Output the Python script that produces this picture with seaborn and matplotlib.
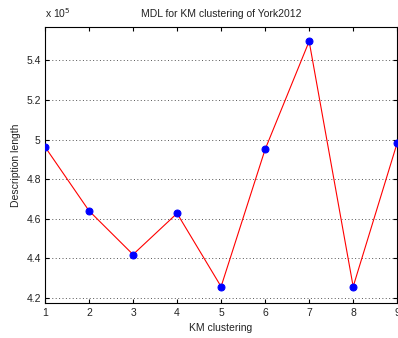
import matplotlib
matplotlib.use("Agg")
import matplotlib.pyplot as plt
import matplotlib.ticker as mticker
import seaborn as sns
import pandas as pd

# Description length per KM clustering run
clusterings = [1, 2, 3, 4, 5, 6, 7, 8, 9]
description_length = [496300, 464000, 441900, 462700, 425700, 495000, 549600, 425700, 498300]
y_ticks = [420000, 440000, 460000, 480000, 500000, 520000, 540000]
x_ticks = [1, 2, 3, 4, 5, 6, 7, 8, 9]

sns.set_theme(style="white")
plt.rcParams["font.family"] = ["Liberation Sans", "DejaVu Sans"]
plt.rcParams["font.size"] = 7.5

df = pd.DataFrame({"KM clustering": clusterings, "Description length": description_length})

fig = plt.figure(figsize=(3.98, 3.38), dpi=100)
ax = fig.add_axes([0.113, 0.104, 0.885, 0.816])

sns.lineplot(data=df, x="KM clustering", y="Description length", ax=ax,
             color="#ff0000", linewidth=0.8, marker="o", markersize=5,
             markerfacecolor="#0000ff", markeredgecolor="#0000ff", zorder=3)

ax.set_xlim(1, 9)
ax.set_ylim(417500, 556800)
ax.set_xticks(x_ticks)
ax.set_yticks(y_ticks)
ax.yaxis.set_major_formatter(mticker.FuncFormatter(lambda v, p: f"{v / 1e5:g}"))

ax.grid(axis="y", linestyle=(0, (1, 2.5)), color="#555555", linewidth=0.7)
ax.grid(axis="x", visible=False)

for s in ax.spines.values():
    s.set_color("black")
    s.set_linewidth(0.8)
    s.set_visible(True)

ax.tick_params(direction="in", length=3, width=0.8, colors="black",
               top=True, right=True, bottom=True, left=True, labelsize=7.5)
ax.tick_params(axis="y", pad=3)
ax.tick_params(axis="x", pad=4)
for lbl in ax.get_xticklabels() + ax.get_yticklabels():
    lbl.set_color("#222222")

ax.set_xlabel("KM clustering", fontsize=7.5, color="#222222", labelpad=3)
ax.set_ylabel("Description length", fontsize=7.5, color="#222222", labelpad=4)
ax.set_title("MDL for KM clustering of York2012", fontsize=7.5, color="#222222", pad=7)
ax.text(0.0, 1.025, r"x 10$^5$", transform=ax.transAxes, fontsize=7.5,
        color="#222222", ha="left", va="bottom")

fig.savefig("out.png", dpi=100)
